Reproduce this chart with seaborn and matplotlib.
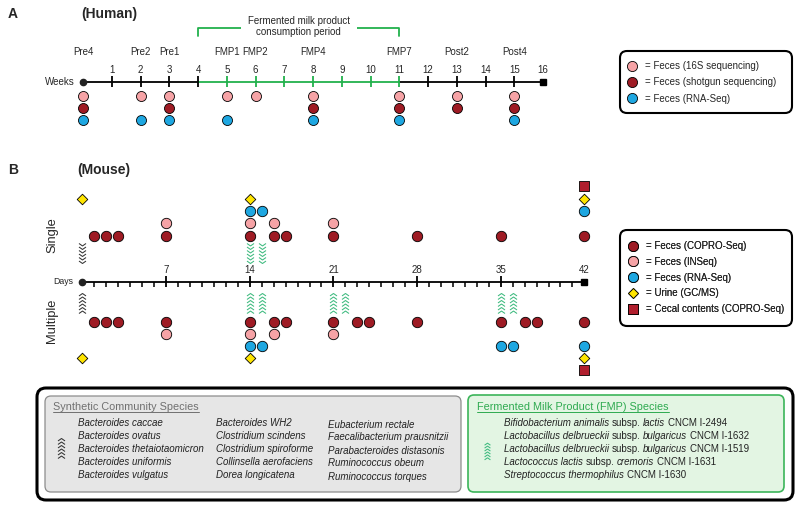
import numpy as np
import pandas as pd
import matplotlib.pyplot as plt
import seaborn as sns
from matplotlib.path import Path
from matplotlib.lines import Line2D
from matplotlib.patches import FancyBboxPatch

sns.set_style('white')
plt.rcParams['font.family'] = ['Liberation Sans', 'DejaVu Sans']

# ---------------- data ----------------
# (A) human study, weeks
n_weeks = 16
fmp_start, fmp_end = 4, 11
visit_labels = ['Pre4', 'Pre2', 'Pre1', 'FMP1', 'FMP2', 'FMP4', 'FMP7', 'Post2', 'Post4']
visit_weeks = [0, 2, 3, 5, 6, 8, 11, 13, 15]
human_16s = [0, 2, 3, 5, 6, 8, 11, 13, 15]
human_shotgun = [0, 3, 8, 11, 13, 15]
human_rnaseq = [0, 2, 3, 5, 8, 11, 15]

# (B) mouse study, days
n_days = 42
single_copro = [1, 2, 3, 7, 14, 16, 17, 21, 28, 35, 42]
single_inseq = [7, 14, 16, 21]
single_rnaseq = [14, 15, 42]
single_urine = [0, 14, 42]
single_cecal = [42]
single_gavage_comm = [0]
single_gavage_fmp = [14, 15]

multi_copro = [1, 2, 3, 7, 14, 16, 17, 21, 23, 24, 28, 35, 37, 38, 42]
multi_inseq = [7, 14, 16, 21]
multi_rnaseq = [14, 15, 35, 36, 42]
multi_urine = [0, 14, 42]
multi_cecal = [42]
multi_gavage_comm = [0]
multi_gavage_fmp = [14, 15, 21, 22, 35, 36]

synthetic_species = [
    ['Bacteroides caccae', 'Bacteroides ovatus', 'Bacteroides thetaiotaomicron',
     'Bacteroides uniformis', 'Bacteroides vulgatus'],
    ['Bacteroides WH2', 'Clostridium scindens', 'Clostridium spiroforme',
     'Collinsella aerofaciens', 'Dorea longicatena'],
    ['Eubacterium rectale', 'Faecalibacterium prausnitzii', 'Parabacteroides distasonis',
     'Ruminococcus obeum', 'Ruminococcus torques'],
]
# (text, italic)
fmp_species = [
    [('Bifidobacterium animalis', 1), ('subsp.', 0), ('lactis', 1), ('CNCM I-2494', 0)],
    [('Lactobacillus delbrueckii', 1), ('subsp.', 0), ('bulgaricus', 1), ('CNCM I-1632', 0)],
    [('Lactobacillus delbrueckii', 1), ('subsp.', 0), ('bulgaricus', 1), ('CNCM I-1519', 0)],
    [('Lactococcus lactis', 1), ('subsp.', 0), ('cremoris', 1), ('CNCM I-1631', 0)],
    [('Streptococcus thermophilus', 1), ('CNCM I-1630', 0)],
]

# ---------------- style ----------------
PINK = '#f6a3a6'
DRED = '#9e1b24'
BLUE = '#1ea7e1'
YELLOW = '#ffe500'
SQRED = '#b01e2d'
GREEN = '#22b14c'
CHEV_GREEN = '#3dba7e'
FS = 7

W, H = 800, 509
fig = plt.figure(figsize=(8, 5.09), dpi=100)

canvas = fig.add_axes([0, 0, 1, 1], label='canvas')
canvas.set_xlim(0, W)
canvas.set_ylim(H, 0)
canvas.axis('off')


def timeline_axes(x0, step, name):
    ax = fig.add_axes([0, 0, 1, 1], label=name)
    ax.set_xlim(-x0 / step, (W - x0) / step)
    ax.set_ylim(H, 0)
    ax.axis('off')
    return ax


axA = timeline_axes(83, 28.75, 'human')
axB = timeline_axes(82.5, 11.95, 'mouse')


def chevron_path(n=6, up=True):
    verts, codes = [], []
    step, h = 0.5, 0.35
    total = (n - 1) * step + h
    for i in range(n):
        y0 = i * step - total / 2
        if up:
            pts = [(-0.5, y0), (0, y0 + h), (0.5, y0)]
        else:
            pts = [(-0.5, y0 + h), (0, y0), (0.5, y0 + h)]
        verts += pts
        codes += [Path.MOVETO, Path.LINETO, Path.LINETO]
    return Path(verts, codes)


CHEV_UP = chevron_path(up=True)
CHEV_DN = chevron_path(up=False)


def dots(ax, xs, lane_y, color, marker='o', s=54):
    df = pd.DataFrame({'t': xs, 'lane': [lane_y] * len(xs)})
    sns.scatterplot(data=df, x='t', y='lane', ax=ax, color=color, marker=marker, s=s,
                    edgecolor='black', linewidth=0.6, legend=False, zorder=3)


def rbox(x0, y0, x1, y1, r, **kw):
    canvas.add_patch(FancyBboxPatch((x0 + r, y0 + r), x1 - x0 - 2 * r, y1 - y0 - 2 * r,
                                    boxstyle=f'round,pad={r},rounding_size={r}', **kw))


# ---------------- panel A ----------------
ya = 81.5
axA.plot([0, fmp_start], [ya, ya], color='black', lw=1.3)
axA.plot([fmp_end, n_weeks], [ya, ya], color='black', lw=1.3)
axA.plot([fmp_start, fmp_end], [ya, ya], color=GREEN, lw=1.3)
wk = np.arange(1, n_weeks)
wcol = [GREEN if fmp_start < w <= fmp_end else 'black' for w in wk]
axA.vlines(wk, ya - 5.5, ya + 5.5, colors=wcol, lw=1.3)
axA.plot(0, ya, 'o', ms=4.5, color='#222222')
axA.plot(n_weeks, ya, 's', ms=4, color='black')
for w in range(1, n_weeks + 1):
    axA.text(w, 70, str(w), ha='center', va='center', fontsize=FS)
for lab, w in zip(visit_labels, visit_weeks):
    axA.text(w, 52, lab, ha='center', va='center', fontsize=FS)
axA.text(-0.3, ya, 'Weeks', ha='right', va='center', fontsize=FS)

axA.plot([fmp_start, fmp_start, fmp_end, fmp_end], [36, 28, 28, 36], color=GREEN, lw=1.3)
axA.text((fmp_start + fmp_end) / 2, 26.5, 'Fermented milk product\nconsumption period',
         ha='center', va='center', fontsize=FS, linespacing=1.15,
         bbox=dict(fc='white', ec='none', pad=5))

dots(axA, human_16s, 96, PINK, s=52)
dots(axA, human_shotgun, 108, DRED, s=52)
dots(axA, human_rnaseq, 119.5, BLUE, s=52)

canvas.text(8, 14, 'A', fontsize=10, fontweight='bold', va='center')
canvas.text(81, 14, '(Human)', fontsize=10, fontweight='bold', va='center')

# ---------------- panel B ----------------
yb = 281.5
axB.plot([0, n_days], [yb, yb], color='black', lw=1.3)
dd = np.arange(1, n_days)
minor = dd[dd % 7 != 0]
major = dd[dd % 7 == 0]
axB.vlines(minor, yb, yb + 5.5, colors='black', lw=1.1)
axB.vlines(major, yb - 5.5, yb + 5.5, colors='black', lw=1.3)
axB.plot(0, yb, 'o', ms=4.5, color='#222222')
axB.plot(n_days, yb, 's', ms=4, color='black')
for d in list(major) + [n_days]:
    axB.text(d, 270, str(d), ha='center', va='center', fontsize=FS)
axB.text(-0.8, yb, 'Days', ha='right', va='center', fontsize=6.3)

# single gavage (above axis)
dots(axB, single_cecal, 186, SQRED, marker='s', s=52)
dots(axB, single_urine, 199, YELLOW, marker='D', s=29)
dots(axB, single_rnaseq, 211, BLUE, s=56)
dots(axB, single_inseq, 223, PINK, s=56)
dots(axB, single_copro, 236, DRED, s=56)
axB.plot(single_gavage_comm, [253] * len(single_gavage_comm), ls='', marker=CHEV_DN,
         ms=14.4, mfc='none', mec='#333333', mew=0.75)
axB.plot(single_gavage_fmp, [253] * len(single_gavage_fmp), ls='', marker=CHEV_DN,
         ms=14.4, mfc='none', mec=CHEV_GREEN, mew=0.75)

# multiple gavage (below axis)
axB.plot(multi_gavage_comm, [303] * len(multi_gavage_comm), ls='', marker=CHEV_UP,
         ms=14.4, mfc='none', mec='#333333', mew=0.75)
axB.plot(multi_gavage_fmp, [303] * len(multi_gavage_fmp), ls='', marker=CHEV_UP,
         ms=14.4, mfc='none', mec=CHEV_GREEN, mew=0.75)
dots(axB, multi_copro, 322, DRED, s=56)
dots(axB, multi_inseq, 334, PINK, s=56)
dots(axB, multi_rnaseq, 346, BLUE, s=56)
dots(axB, multi_urine, 358, YELLOW, marker='D', s=29)
dots(axB, multi_cecal, 370, SQRED, marker='s', s=52)

canvas.text(8, 170, 'B', fontsize=10, fontweight='bold', va='center')
canvas.text(77, 170, '(Mouse)', fontsize=10, fontweight='bold', va='center')
canvas.text(52, 235, 'Single', rotation=90, ha='center', va='center', fontsize=9.3)
canvas.text(52, 321, 'Multiple', rotation=90, ha='center', va='center', fontsize=9.3)

# ---------------- legends ----------------
def key(color, marker='o', ms=7.3):
    return Line2D([], [], ls='', marker=marker, ms=ms, mfc=color, mec='black', mew=0.6)


rbox(620, 51, 792, 113, 7, fc='white', ec='black', lw=1.5)
legA = canvas.legend([key(PINK), key(DRED), key(BLUE)],
                     ['= Feces (16S sequencing)', '= Feces (shotgun sequencing)',
                      '= Feces (RNA-Seq)'],
                     loc='upper left', bbox_to_anchor=(627, 61), bbox_transform=canvas.transData,
                     frameon=False, borderpad=0, borderaxespad=0, handlelength=1.0,
                     handletextpad=0.85, labelspacing=0.66, fontsize=FS)
canvas.add_artist(legA)

rbox(620, 230, 792, 326, 7, fc='white', ec='black', lw=1.5)
legB = canvas.legend([key(DRED), key(PINK), key(BLUE), key(YELLOW, 'D', 5.3), key(SQRED, 's', 7.0)],
                     ['= Feces (COPRO-Seq)', '= Feces (INSeq)', '= Feces (RNA-Seq)',
                      '= Urine (GC/MS)', '= Cecal contents (COPRO-Seq)'],
                     loc='upper left', bbox_to_anchor=(628, 241), bbox_transform=canvas.transData,
                     frameon=False, borderpad=0, borderaxespad=0, handlelength=1.0,
                     handletextpad=0.8, labelspacing=0.6, fontsize=FS)
canvas.add_artist(legB)

# ---------------- species boxes ----------------
rbox(37, 388, 793, 500, 9, fc='white', ec='black', lw=2.2)
rbox(45, 396, 461, 492, 6, fc='#e6e6e6', ec='#8c8c8c', lw=0.9)
rbox(468, 395, 784, 492, 6, fc='#e3f5e3', ec='#3cb55a', lw=1.2)

t1 = canvas.text(53, 407, 'Synthetic Community Species', fontsize=7.8, color='#707070', va='center')
t2 = canvas.text(477, 407, 'Fermented Milk Product (FMP) Species', fontsize=7.8,
                 color='#2eaa50', va='center')

col_x = [78, 216, 328]
col_dy = [0, 0, 1.5]
row_y = [423, 436, 449, 462, 475]
for cx, dy, names in zip(col_x, col_dy, synthetic_species):
    for yy, nm in zip(row_y, names):
        canvas.text(cx, yy + dy, nm, fontsize=FS, style='italic', color='#222222', va='center')

space_pt = 0.278 * FS  # one word space
for yy, parts in zip(row_y, fmp_species):
    t = None
    for s, it in parts:
        st = 'italic' if it else 'normal'
        if t is None:
            t = canvas.text(504, yy, s, fontsize=FS, style=st, color='#222222', va='center')
        else:
            t = canvas.annotate(s, xy=(1, 0), xycoords=t, xytext=(space_pt, 0),
                                textcoords='offset points', ha='left', va='bottom',
                                fontsize=FS, style=st, color='#222222')

canvas.plot([61], [448], ls='', marker=CHEV_UP, ms=14.4, mfc='none', mec='#333333', mew=0.75)
canvas.plot([487], [451], ls='', marker=CHEV_UP, ms=12, mfc='none', mec=CHEV_GREEN, mew=0.75)

# underline the two box titles
fig.canvas.draw()
inv = canvas.transData.inverted()
for t, c in [(t1, '#707070'), (t2, '#2eaa50')]:
    bb = t.get_window_extent()
    (xa, _), (xb, _) = inv.transform([(bb.x0, bb.y0), (bb.x1, bb.y1)])
    canvas.plot([xa, xb], [411.5, 411.5], color=c, lw=0.7)

fig.savefig('out.png', dpi=100)
